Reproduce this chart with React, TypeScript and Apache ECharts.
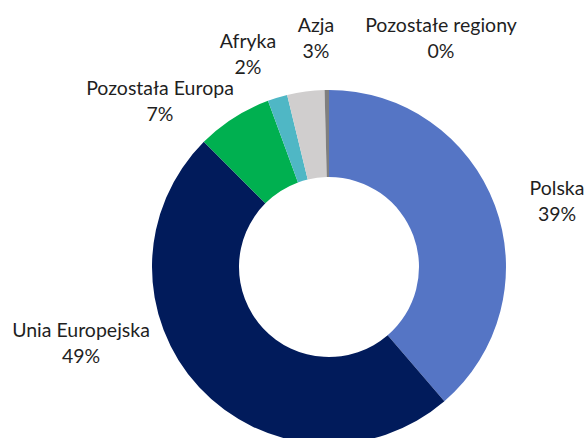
import React, { useEffect, useRef } from "react";
import * as echarts from "echarts";

const categories = ["Polska", "Unia Europejska", "Pozostała Europa", "Afryka", "Azja", "Pozostałe regiony"];
const values = [38.7, 48.8, 6.9, 1.8, 3.4, 0.4];
const colors = ["#5575C5", "#011B5B", "#00B050", "#4FB7C5", "#D0CECE", "#7F7F7F"];
const labelPos: [number, number][] = [
  [557, 200],
  [81, 342],
  [160, 100],
  [248, 53],
  [316, 37],
  [441, 37],
];

export default function App() {
  const ref = useRef<HTMLDivElement>(null);
  useEffect(() => {
    if (!ref.current) return;
    const chart = echarts.init(ref.current, undefined, { renderer: "svg" });
    chart.setOption({
      animation: false,
      backgroundColor: "#ffffff",
      series: [
        {
          type: "pie",
          center: [329, 267],
          radius: [90, 177],
          startAngle: 90,
          clockwise: true,
          percentPrecision: 0,
          avoidLabelOverlap: false,
          data: categories.map((c, i) => ({
            name: c,
            value: values[i],
            itemStyle: { color: colors[i] },
          })),
          label: {
            show: true,
            position: "outside",
            formatter: "{b}\n{d}%",
            fontFamily: "Lato",
            fontSize: 19.5,
            lineHeight: 26,
            color: "#1f1f1f",
            align: "center",
          },
          labelLine: { show: false },
          labelLayout: (p: any) => ({
            x: labelPos[p.dataIndex][0],
            y: labelPos[p.dataIndex][1],
            align: "center",
            verticalAlign: "middle",
          }),
          emphasis: { disabled: true },
        },
      ],
    });
    return () => chart.dispose();
  }, []);
  return (
    <div
      ref={ref}
      style={{ position: "fixed", left: 0, top: 0, width: 585, height: 438 }}
    />
  );
}
